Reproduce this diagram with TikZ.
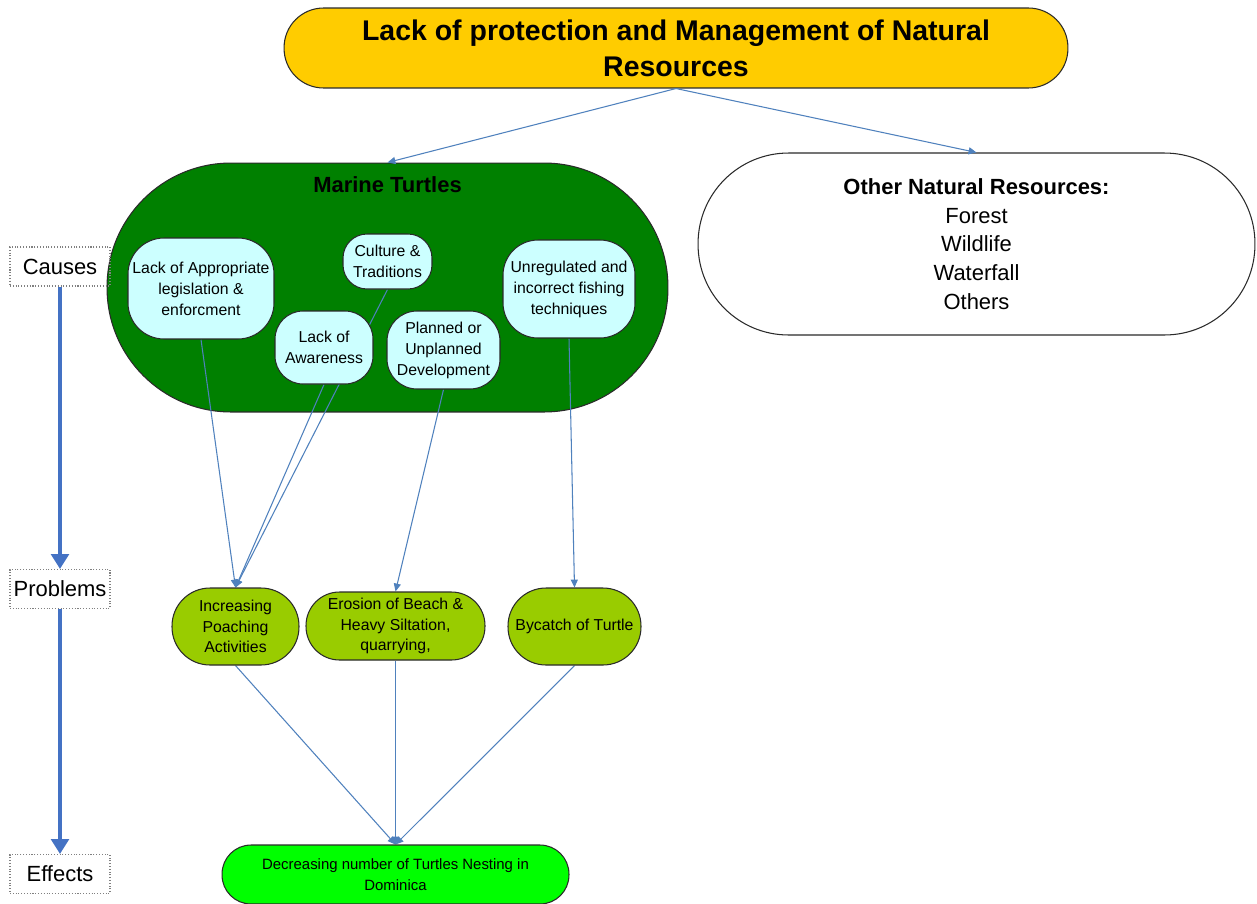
\documentclass[tikz,border=0pt]{standalone}
\usepackage{fontspec}
\setmainfont{Liberation Sans}
\usetikzlibrary{arrows.meta}
\pgfdeclarelayer{back}
\pgfdeclarelayer{front}
\pgfsetlayers{back,main,front}

\definecolor{titleyellow}{HTML}{FFCC00}
\definecolor{turtlegreen}{HTML}{008000}
\definecolor{causecyan}{HTML}{CCFFFF}
\definecolor{problemolive}{HTML}{99CC00}
\definecolor{effectgreen}{HTML}{00FF00}
\definecolor{linkblue}{HTML}{4F81BD}
\definecolor{flowblue}{HTML}{4472C4}
\definecolor{outline}{HTML}{2A2A2A}

\begin{document}
\begin{tikzpicture}[x=0.02cm,y=-0.02cm,
  boxbase/.style={draw=outline,line width=0.6pt,inner sep=0pt,align=center},
  titlebox/.style={boxbase,fill=titleyellow,font=\fontsize{16.2}{20.5}\selectfont\bfseries},
  groupbox/.style={boxbase},
  causebox/.style={boxbase,fill=causecyan,font=\fontsize{9}{11.9}\selectfont},
  problembox/.style={boxbase,fill=problemolive,font=\fontsize{9}{11.7}\selectfont},
  effectbox/.style={boxbase,fill=effectgreen,font=\fontsize{8.5}{11.9}\selectfont},
  stagebox/.style={draw=gray,densely dotted,line width=0.6pt,inner sep=0pt,
    minimum width=2cm,minimum height=0.78cm,font=\fontsize{12.5}{14}\selectfont},
  link/.style={draw=linkblue,line width=0.6pt,-{Triangle[length=4.5pt,width=4pt]}},
  flow/.style={draw=flowblue,line width=2.8pt,-{Triangle[length=8.5pt,width=10pt]}}
]
\clip (0,0) rectangle (1257,903);

% page background and the marine turtle group, under the connectors
\begin{pgfonlayer}{back}
\fill[white] (0,0) rectangle (1257,903);
\node[groupbox,fill=turtlegreen,minimum width=11.22cm,minimum height=4.98cm,rounded corners=2.48cm]
  (marine) at (387.5,287.5) {};
\end{pgfonlayer}

% top-level issue
\node[titlebox,minimum width=15.68cm,minimum height=1.6cm,rounded corners=0.79cm]
  (top) at (676,48) {Lack of protection and Management of Natural\\Resources};

% the two resource groups
\node[font=\fontsize{12.5}{14}\selectfont\bfseries] (marinetitle) at (387.5,185) {Marine Turtles};
\node[groupbox,fill=white,minimum width=11.14cm,minimum height=3.64cm,rounded corners=1.81cm,
  font=\fontsize{12.5}{16.4}\selectfont]
  (other) at (976.5,244) {\textbf{Other Natural Resources:}\\Forest\\Wildlife\\Waterfall\\Others};

% causes, problems and the effect
\begin{pgfonlayer}{front}
\node[causebox,minimum width=2.92cm,minimum height=2.02cm,rounded corners=0.72cm]
  (legis) at (201,288.5) {Lack of Appropriate\\legislation \&\\enforcment};
\node[causebox,minimum width=1.78cm,minimum height=1.1cm,rounded corners=0.48cm]
  (culture) at (387.5,261.5) {Culture \&\\Traditions};
\node[causebox,minimum width=1.96cm,minimum height=1.46cm,rounded corners=0.56cm]
  (aware) at (324,347.5) {Lack of\\Awareness};
\node[causebox,minimum width=2.26cm,minimum height=1.56cm,rounded corners=0.6cm]
  (planned) at (443.5,350) {Planned or\\Unplanned\\Development};
\node[causebox,minimum width=2.64cm,minimum height=1.96cm,rounded corners=0.7cm]
  (fishing) at (569,289) {Unregulated and\\incorrect fishing\\techniques};

\node[problembox,minimum width=2.54cm,minimum height=1.54cm,rounded corners=0.76cm]
  (poaching) at (235.5,626.5) {Increasing\\Poaching\\Activities};
\node[problembox,minimum width=3.58cm,minimum height=1.36cm,rounded corners=0.67cm]
  (erosion) at (395.5,626) {Erosion of Beach \&\\Heavy Siltation,\\quarrying,};
\node[problembox,minimum width=2.66cm,minimum height=1.54cm,rounded corners=0.76cm]
  (bycatch) at (574.5,626.5) {Bycatch of Turtle};

\node[effectbox,minimum width=6.94cm,minimum height=1.18cm,rounded corners=0.58cm]
  (effect) at (395.5,874.5) {Decreasing number of Turtles Nesting in\\Dominica};
\end{pgfonlayer}

% stage labels
\node[stagebox] (causes) at (60,266.5) {Causes};
\node[stagebox] (problems) at (60,589) {Problems};
\node[stagebox] (effects) at (60,874) {Effects};

% stage flow
\draw[flow] (causes.south) -- (problems.north);
\draw[flow] (problems.south) -- (effects.north);

% links between issues
\draw[link] (top.south) -- (marine.north);
\draw[link] (top.south) -- (other.north);
\draw[link] (legis.south) -- (poaching.north);
\draw[link] (culture.south) -- (poaching.north);
\draw[link] (aware.south) -- (poaching.north);
\draw[link] (planned.south) -- (erosion.north);
\draw[link] (fishing.south) -- (bycatch.north);
\draw[link] (poaching.south) -- (effect.north);
\draw[link] (erosion.south) -- (effect.north);
\draw[link] (bycatch.south) -- (effect.north);
\end{tikzpicture}
\end{document}
